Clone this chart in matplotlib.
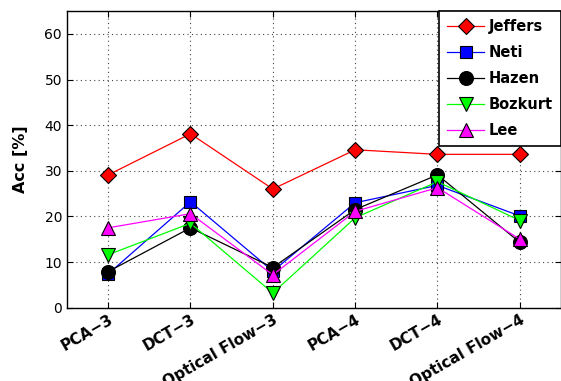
# -*- coding: utf-8 -*-

import numpy as np
import matplotlib
matplotlib.use('Agg')
import matplotlib.pyplot as plt


# 数据
categories = ['PCA\u22123', 'DCT\u22123', 'Optical Flow\u22123', 'PCA\u22124', 'DCT\u22124', 'Optical Flow\u22124']
jeffers = [29.1, 38.1, 26.0, 34.6, 33.6, 33.6]
neti = [7.4, 23.2, 8.0, 23.0, 26.8, 20.1]
hazen = [7.9, 17.5, 8.8, 21.5, 29.1, 14.3]
bozkurt = [11.6, 18.5, 3.2, 19.7, 27.6, 19.1]
lee = [17.5, 20.6, 7.2, 21.1, 26.3, 15.0]

series = [
    ('Jeffers', jeffers, 'red', 'D'),
    ('Neti', neti, 'blue', 's'),
    ('Hazen', hazen, 'black', 'o'),
    ('Bozkurt', bozkurt, '#00ff00', 'v'),
    ('Lee', lee, 'magenta', '^'),
]

fig = plt.figure(figsize=(5.61, 3.81), dpi=100)
ax = fig.add_axes([0.1194, 0.1924, 0.8806, 0.7786])

x = np.arange(1, len(categories) + 1)
for name, vals, color, marker in series:
    ms = 8.5 if marker in ('s', 'D') else 10
    ax.plot(x, vals, color=color, lw=0.9, marker=marker, markersize=ms,
            markerfacecolor=color, markeredgecolor='black', markeredgewidth=0.8,
            label=name)

ax.set_xlim(0.5, 6.5)
ax.set_ylim(0, 65)
ax.set_yticks([0, 10, 20, 30, 40, 50, 60])
ax.set_xticks(x)
ax.set_xticklabels(categories, rotation=30, ha='right', rotation_mode='anchor',
                   fontsize=11, fontweight='bold')
ax.tick_params(axis='x', pad=3)
ax.tick_params(axis='y', labelsize=10, colors='black')
ax.tick_params(direction='in', length=4, top=True, right=True)
ax.set_ylabel('Acc [%]', fontsize=11.5, fontweight='bold', labelpad=12)

ax.grid(True, linestyle=(0, (1, 3)), color='#444444', linewidth=0.8)
for s in ax.spines.values():
    s.set_linewidth(1.0)

leg = ax.legend(loc='upper right', prop={'weight': 'bold', 'size': 10.5},
                fancybox=False, framealpha=1, edgecolor='black',
                borderaxespad=0, handlelength=2.5, handletextpad=0.35,
                labelspacing=0.75, borderpad=0.55)
leg.get_frame().set_linewidth(1.2)

fig.savefig('out.png', dpi=100)
